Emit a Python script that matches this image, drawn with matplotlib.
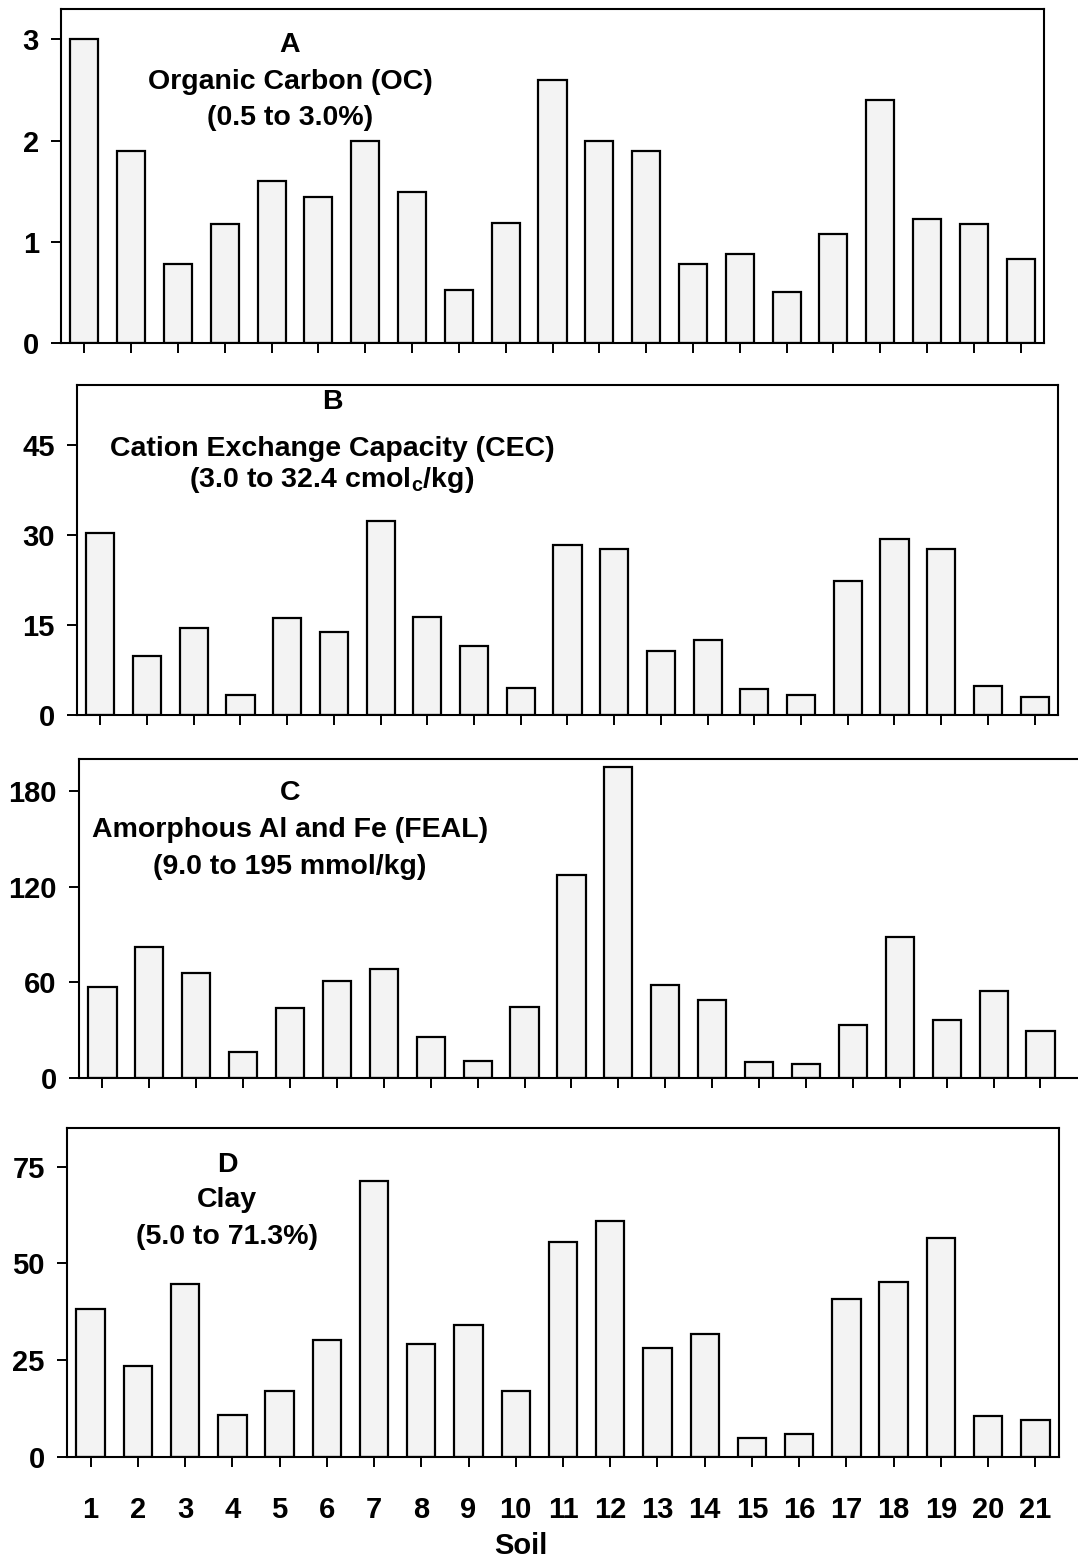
"""
Soil properties of the 21 soils: four stacked bar panels
(OC, CEC, FEAL, clay) sharing the same soil index on x.
"""

import matplotlib
matplotlib.use("Agg")
import matplotlib.pyplot as plt

W, H = 1078, 1564

soils = list(range(1, 22))
oc = [3.0, 1.9, 0.78, 1.18, 1.6, 1.44, 2.0, 1.49, 0.52, 1.19, 2.6,
      2.0, 1.9, 0.78, 0.88, 0.5, 1.08, 2.4, 1.23, 1.18, 0.83]
cec = [30.4, 9.8, 14.5, 3.3, 16.2, 13.9, 32.4, 16.4, 11.5, 4.5, 28.3,
       27.6, 10.7, 12.5, 4.4, 3.3, 22.3, 29.3, 27.6, 4.9, 3.0]
feal = [57.3, 82.4, 65.6, 16.0, 44.2, 60.6, 68.1, 25.7, 10.4, 44.6, 127.0,
        195.0, 58.0, 49.2, 10.0, 9.0, 33.2, 88.4, 36.1, 54.6, 29.5]
clay = [38.3, 23.4, 44.7, 10.9, 17.0, 30.3, 71.3, 29.2, 34.2, 17.1, 55.5,
        61.0, 28.2, 31.8, 5.0, 6.0, 40.8, 45.3, 56.5, 10.6, 9.6]

titles = {
    "A": ["A", "Organic Carbon (OC)", "(0.5 to 3.0%)"],
    "B": ["B", "Cation Exchange Capacity (CEC)", r"(3.0 to 32.4 cmol$_{c}$/kg)"],
    "C": ["C", "Amorphous Al and Fe (FEAL)", "(9.0 to 195 mmol/kg)"],
    "D": ["D", "Clay", "(5.0 to 71.3%)"],
}
yticks = {
    "A": [0, 1, 2, 3],
    "B": [0, 15, 30, 45],
    "C": [0, 60, 120, 180],
    "D": [0, 25, 50, 75],
}
ylims = {"A": 3.3, "B": 55, "C": 200, "D": 85}

plt.rcParams["font.family"] = ["Liberation Sans", "DejaVu Sans"]
plt.rcParams["font.weight"] = "bold"
plt.rcParams["mathtext.fontset"] = "custom"
plt.rcParams["mathtext.bf"] = "Liberation Sans:bold"
plt.rcParams["mathtext.rm"] = "Liberation Sans:bold"
plt.rcParams["mathtext.default"] = "bf"


def px_rect(left, top, right, bottom):
    return [left / W, 1 - bottom / H, (right - left) / W, (bottom - top) / H]


def draw_panel(ax, values, key, xmax=21.5, show_labels=False, right_spine=True):
    ax.bar(soils, values, width=0.6, color="#f3f3f3",
           edgecolor="black", linewidth=1.6, zorder=2)
    ax.set_xlim(0.5, xmax)
    ax.set_ylim(0, ylims[key])
    ax.set_yticks(yticks[key])
    ax.set_xticks(soils)
    for s in ax.spines.values():
        s.set_linewidth(1.5)
    ax.spines["right"].set_visible(right_spine)
    ax.tick_params(axis="y", direction="out", length=7, width=1.4,
                   labelsize=21, pad=9)
    ax.tick_params(axis="x", direction="out", length=7, width=1.4,
                   labelsize=21, pad=21, labelbottom=show_labels)


fig = plt.figure(figsize=(W / 100, H / 100), dpi=100)

ax_a = fig.add_axes(px_rect(61, 9, 1044, 343))
ax_b = fig.add_axes(px_rect(77, 385, 1058, 715))
ax_c = fig.add_axes(px_rect(79, 759, 1078, 1078))
ax_d = fig.add_axes(px_rect(67, 1128, 1059, 1457))

draw_panel(ax_a, oc, "A")
draw_panel(ax_b, cec, "B")
draw_panel(ax_c, feal, "C", xmax=21.8, right_spine=False)
draw_panel(ax_d, clay, "D", show_labels=True)

# panel titles (pixel positions from the reference)
title_pos = {
    "A": (290, [45, 82, 118]),
    "B": (332, [402, 449, 480]),
    "C": (290, [793, 830, 867]),
    "D": (227, [1165, 1200, 1237]),
}
for key, (x, ys) in title_pos.items():
    for line, y in zip(titles[key], ys):
        fig.text(x / W, 1 - y / H, line, ha="center", va="center",
                 fontsize=20.5, fontweight="bold")

fig.text(521 / W, 1 - 1546 / H, "Soil", ha="center", va="center",
         fontsize=21, fontweight="bold")

fig.savefig("out.png", dpi=100)
